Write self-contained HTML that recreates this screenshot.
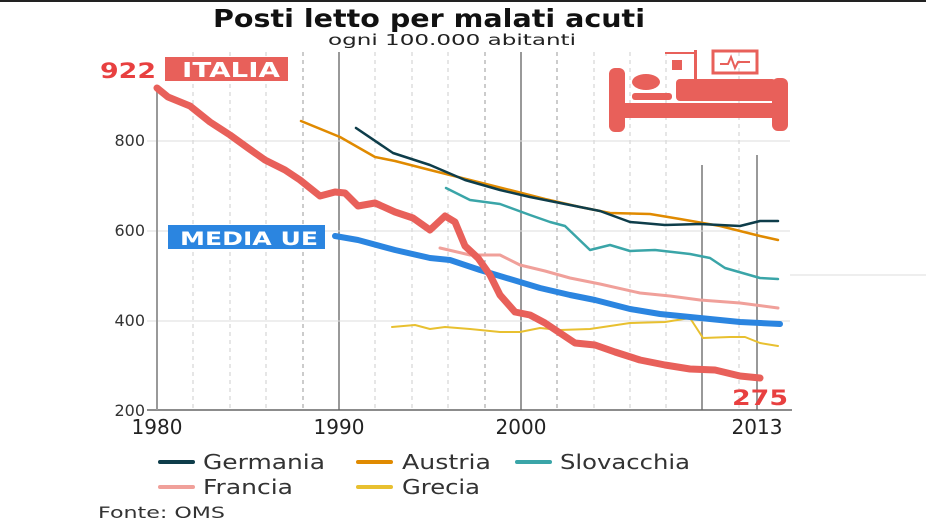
<!DOCTYPE html><html><head><style>body{margin:0;background:#fff}svg{display:block;font-family:"DejaVu Sans","Liberation Sans",sans-serif}</style></head><body>
<svg width="926" height="529" viewBox="0 0 926 529">
<rect x="0" y="0" width="926" height="2" fill="#222"/>
<text x="213" y="27" font-size="25" font-weight="bold" fill="#111" textLength="432" lengthAdjust="spacingAndGlyphs">Posti letto per malati acuti</text>
<text x="328" y="45" font-size="15" fill="#222" textLength="248" lengthAdjust="spacingAndGlyphs">ogni 100.000 abitanti</text>
<g stroke="#ccc" stroke-width="1" stroke-dasharray="4,4">
<line x1="193" y1="52" x2="193" y2="410"/><line x1="230" y1="52" x2="230" y2="410"/><line x1="266" y1="52" x2="266" y2="410"/>
<line x1="375" y1="52" x2="375" y2="410"/><line x1="412" y1="52" x2="412" y2="410"/><line x1="448" y1="52" x2="448" y2="410"/>
<line x1="594" y1="52" x2="594" y2="410"/><line x1="630" y1="52" x2="630" y2="410"/><line x1="666" y1="52" x2="666" y2="410"/><line x1="739" y1="52" x2="739" y2="410"/>
</g>
<g stroke="#999" stroke-width="1" stroke-dasharray="4,4">
<line x1="303" y1="52" x2="303" y2="410"/><line x1="485" y1="52" x2="485" y2="410"/><line x1="557" y1="52" x2="557" y2="410"/>
</g>
<g stroke="#999" stroke-width="2">
<line x1="339" y1="52" x2="339" y2="410"/><line x1="521" y1="52" x2="521" y2="410"/><line x1="702" y1="165" x2="702" y2="410"/><line x1="757" y1="155" x2="757" y2="410"/>
</g>
<g stroke="#ddd" stroke-width="1"><line x1="147" y1="141" x2="790" y2="141"/><line x1="147" y1="231" x2="790" y2="231"/><line x1="147" y1="321" x2="790" y2="321"/><line x1="790" y1="275" x2="926" y2="275"/></g>
<line x1="147" y1="410" x2="792" y2="410" stroke="#666" stroke-width="1.5"/>
<line x1="157" y1="88" x2="157" y2="410" stroke="#999" stroke-width="2"/>
<g font-size="16" fill="#333" text-anchor="end"><text x="145" y="146">800</text><text x="145" y="236">600</text><text x="145" y="326">400</text><text x="145" y="416">200</text></g>
<g font-size="20" fill="#222" text-anchor="middle"><text x="157" y="434">1980</text><text x="339" y="434">1990</text><text x="521" y="434">2000</text><text x="757" y="434">2013</text></g>
<g fill="none" stroke-linecap="round" stroke-linejoin="round">
<polyline stroke="#e8c030" stroke-width="2" points="392,327 415,325 430,329 445,327 470,329 500,332 520,332 540,328 560,330 590,329 630,323 665,322 690,318 703,338 730,337 745,337 760,343 778,346"/>
<polyline stroke="#f0a09a" stroke-width="3" points="440,248 470,255 500,255 520,265 545,271 570,278 600,284 640,293 670,296 700,300 740,303 778,308"/>
<polyline stroke="#3aa5a8" stroke-width="2.5" points="446,188 470,200 500,204 530,215 550,222 565,226 590,250 610,245 630,251 655,250 690,254 710,258 725,268 760,278 778,279"/>
<polyline stroke="#e08a00" stroke-width="2.5" points="301,121 340,137 375,157 395,161 430,170 470,180 510,190 545,199 580,207 610,213 650,214 680,219 720,226 760,236 778,240"/>
<polyline stroke="#0e3d4a" stroke-width="2.5" points="356,128 393,153 430,165 465,180 500,190 530,197 570,205 600,211 630,222 665,225 700,224 740,226 760,221 778,221"/>
<polyline stroke="#2b85e0" stroke-width="6" points="335,236 358,240 395,250 430,258 450,260 480,270 510,279 540,288 570,295 595,300 630,309 660,314 700,318 740,322 780,324"/>
<polyline stroke="#e8605a" stroke-width="7" points="157,88 168,97 190,106 210,122 230,135 248,148 265,160 285,170 300,180 320,196 335,192 345,193 358,206 375,203 395,212 413,218 430,230 445,216 455,222 465,246 478,258 490,275 500,295 515,312 530,315 545,323 560,333 575,343 595,345 615,352 640,360 665,365 690,369 715,370 740,376 760,378"/>
</g>
<text x="100" y="78" font-size="21" font-weight="bold" fill="#e84040" textLength="56" lengthAdjust="spacingAndGlyphs">922</text>
<rect x="165" y="57" width="123" height="24" fill="#e8605a"/>
<text x="182" y="77" font-size="20" font-weight="bold" fill="#fff" textLength="98" lengthAdjust="spacingAndGlyphs">ITALIA</text>
<rect x="168" y="225" width="157" height="24" fill="#2b85e0"/>
<text x="180" y="245" font-size="19" font-weight="bold" fill="#fff" textLength="138" lengthAdjust="spacingAndGlyphs">MEDIA UE</text>
<text x="732" y="405" font-size="21" font-weight="bold" fill="#e84040" textLength="56" lengthAdjust="spacingAndGlyphs">275</text>
<g fill="#e8605a">
<rect x="609" y="68" width="16" height="64" rx="6"/><rect x="772" y="78" width="16" height="53" rx="6"/>
<rect x="609" y="103" width="179" height="15"/>
<ellipse cx="646" cy="82" rx="14" ry="8"/><rect x="632" y="93" width="40" height="7" rx="3"/>
<rect x="676" y="79" width="100" height="22" rx="4"/>
<rect x="672" y="60" width="10" height="10"/><rect x="694" y="50" width="3" height="30"/><rect x="665" y="52" width="30" height="2"/>
</g>
<rect x="713" y="51" width="44" height="22" fill="none" stroke="#e8605a" stroke-width="3"/>
<polyline points="720,64 728,64 731,57 735,68 738,62 750,62" fill="none" stroke="#e8605a" stroke-width="2"/>
<g stroke-width="4" stroke-linecap="round">
<line x1="160" y1="462" x2="193" y2="462" stroke="#0e3d4a"/><line x1="358" y1="462" x2="391" y2="462" stroke="#e08a00"/><line x1="517" y1="462" x2="550" y2="462" stroke="#3aa5a8"/>
<line x1="160" y1="487" x2="193" y2="487" stroke="#f0a09a"/><line x1="358" y1="487" x2="391" y2="487" stroke="#e8c030"/>
</g>
<g font-size="20" fill="#333"><text x="203" y="469" textLength="122" lengthAdjust="spacingAndGlyphs">Germania</text><text x="402" y="469" textLength="89" lengthAdjust="spacingAndGlyphs">Austria</text><text x="560" y="469" textLength="130" lengthAdjust="spacingAndGlyphs">Slovacchia</text><text x="203" y="494" textLength="90" lengthAdjust="spacingAndGlyphs">Francia</text><text x="402" y="494" textLength="78" lengthAdjust="spacingAndGlyphs">Grecia</text></g>
<text x="98" y="518" font-size="16" fill="#333" textLength="127" lengthAdjust="spacingAndGlyphs">Fonte: OMS</text>
</svg></body></html>
